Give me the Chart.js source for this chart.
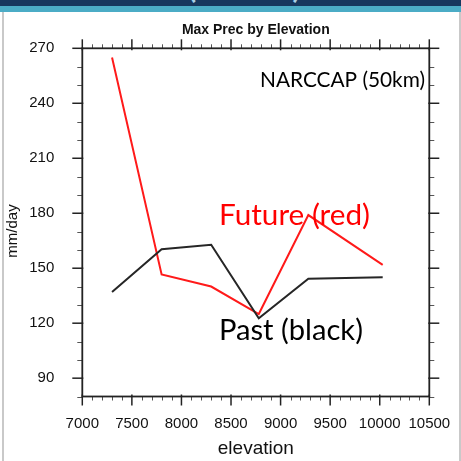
<!DOCTYPE html>
<html><head><meta charset="utf-8">
<script src="https://cdn.jsdelivr.net/npm/chart.js@4.4.1/dist/chart.umd.min.js"></script>
<style>
html,body{margin:0;padding:0;background:#fff;width:461px;height:461px;overflow:hidden;}
#wrap{position:relative;width:461px;height:461px;}
#c{position:absolute;left:0;top:0;}
.navy{position:absolute;left:0;top:0;width:461px;height:6px;background:#17375e;overflow:hidden;}
.teal{position:absolute;left:0;top:6px;width:461px;height:6px;background:#4bacc6;}
.lb{position:absolute;left:2px;top:12px;width:2px;height:449px;background:#c9c9c9;}
.rb{position:absolute;left:459px;top:12px;width:2px;height:449px;background:#c9c9c9;}
.par{position:absolute;top:-38px;font-family:Lato;font-size:40px;line-height:40px;color:#a9cfe6;}
</style></head>
<body><div id="wrap">
<canvas id="c" width="461" height="461"></canvas>
<div class="navy"><span class="par" style="left:186px">(</span><span class="par" style="left:292px">)</span></div>
<div class="teal"></div><div class="lb"></div><div class="rb"></div>
</div>
<script>
// ---- data ----
const elevation = [7300, 7800, 8300, 8780, 9280, 10030];
const pastMax   = [137, 160.4, 162.8, 122.7, 144.3, 145.1];
const futureMax = [265, 146.6, 140, 125, 179, 151.8];
const xTickValues = [7000, 7500, 8000, 8500, 9000, 9500, 10000, 10500];
const yTickValues = [90, 120, 150, 180, 210, 240, 270];
const chartTitle = 'Max Prec by Elevation';
const xTitle = 'elevation';
const yTitle = 'mm/day';
const noteTexts = ['NARCCAP (50km)', 'Future (red)', 'Past (black)'];

// ---- layout / style ----
const AREA = {left: 82.3, right: 429.3, top: 48.3, bottom: 396.5};
const X_RANGE = [7000, 10500], Y_RANGE = [80, 270];
const X_MINOR = 100, Y_MINOR = 10;
const noteStyles = [
  {color: '#000', left: 260, baseline: 86.5, width: 165},
  {color: '#ff0000', left: 219, baseline: 225, width: 151},
  {color: '#000', left: 219, baseline: 340, width: 144}
];

function line(ctx, x1, y1, x2, y2) { ctx.beginPath(); ctx.moveTo(x1, y1); ctx.lineTo(x2, y2); ctx.stroke(); }

const nclPlugin = {
  id: 'ncl',
  afterDraw(chart) {
    const {ctx, chartArea: a, scales: {x, y}} = chart;
    ctx.save();
    // minor ticks
    ctx.strokeStyle = '#555'; ctx.lineWidth = 1;
    for (let v = X_RANGE[0]; v <= X_RANGE[1]; v += X_MINOR) {
      if (xTickValues.includes(v)) continue;
      const p = Math.round(x.getPixelForValue(v)) + 0.5;
      line(ctx, p, a.bottom, p, a.bottom + 4);
      line(ctx, p, a.top, p, a.top - 4);
    }
    for (let v = Y_RANGE[0]; v <= Y_RANGE[1]; v += Y_MINOR) {
      if (yTickValues.includes(v)) continue;
      const p = Math.round(y.getPixelForValue(v)) + 0.5;
      line(ctx, a.left, p, a.left - 5, p);
      line(ctx, a.right, p, a.right + 5, p);
    }
    // major ticks
    ctx.strokeStyle = '#222'; ctx.lineWidth = 1.5;
    xTickValues.forEach(v => {
      const p = x.getPixelForValue(v);
      line(ctx, p, a.bottom - 2, p, a.bottom + 9);
      line(ctx, p, a.top + 2, p, a.top - 9);
    });
    yTickValues.forEach(v => {
      const p = y.getPixelForValue(v);
      line(ctx, a.left + 1, p, a.left - 10, p);
      line(ctx, a.right - 1, p, a.right + 10, p);
    });
    // frame
    ctx.lineWidth = 1.8;
    ctx.strokeRect(a.left, a.top, a.right - a.left, a.bottom - a.top);
    // titles
    ctx.fillStyle = '#111';
    ctx.textAlign = 'center'; ctx.textBaseline = 'alphabetic';
    ctx.font = 'bold 14px "Liberation Sans"';
    ctx.fillText(chartTitle, (a.left + a.right) / 2, 33.5);
    ctx.font = '19px "Liberation Sans"';
    ctx.fillText(xTitle, (a.left + a.right) / 2, 453.5);
    ctx.save();
    ctx.translate(16.5, 231); ctx.rotate(-Math.PI / 2);
    ctx.font = '15px "Liberation Sans"';
    ctx.fillText(yTitle, 0, 0);
    ctx.restore();
    // slide notes
    ctx.textAlign = 'left';
    noteTexts.forEach((t, i) => {
      const s = noteStyles[i];
      ctx.font = '100px Lato';
      const w = ctx.measureText(t).width;
      const size = 100 * s.width / w;
      ctx.font = size.toFixed(2) + 'px Lato';
      ctx.fillStyle = s.color;
      ctx.fillText(t, s.left, s.baseline);
    });
    ctx.restore();
  }
};

const toPoints = ys => elevation.map((e, i) => ({x: e, y: ys[i]}));

new Chart(document.getElementById('c'), {
  type: 'line',
  data: {
    datasets: [
      {label: 'Past', data: toPoints(pastMax), borderColor: '#262626', borderWidth: 2, pointRadius: 0, tension: 0, fill: false},
      {label: 'Future', data: toPoints(futureMax), borderColor: '#ff1a1a', borderWidth: 2, pointRadius: 0, tension: 0, fill: false}
    ]
  },
  options: {
    responsive: false, animation: false, devicePixelRatio: 1,
    layout: {padding: {left: 0, top: AREA.top, right: 461 - AREA.right, bottom: 0}},
    plugins: {legend: {display: false}, tooltip: {enabled: false}, title: {display: false}},
    scales: {
      x: {
        type: 'linear', min: X_RANGE[0], max: X_RANGE[1],
        grid: {display: false}, border: {display: false},
        afterBuildTicks: s => { s.ticks = xTickValues.map(v => ({value: v})); },
        afterFit: s => { s.height = 461 - AREA.bottom; },
        ticks: {padding: 10, color: '#111', font: {family: 'Liberation Sans', size: 15}, maxRotation: 0, callback: v => String(v)}
      },
      y: {
        type: 'linear', min: Y_RANGE[0], max: Y_RANGE[1],
        grid: {display: false}, border: {display: false},
        afterBuildTicks: s => { s.ticks = yTickValues.map(v => ({value: v})); },
        afterFit: s => { s.width = AREA.left; },
        ticks: {padding: 20, color: '#111', font: {family: 'Liberation Sans', size: 15}, callback: v => String(v)}
      }
    }
  },
  plugins: [nclPlugin]
});
</script>
</body></html>
